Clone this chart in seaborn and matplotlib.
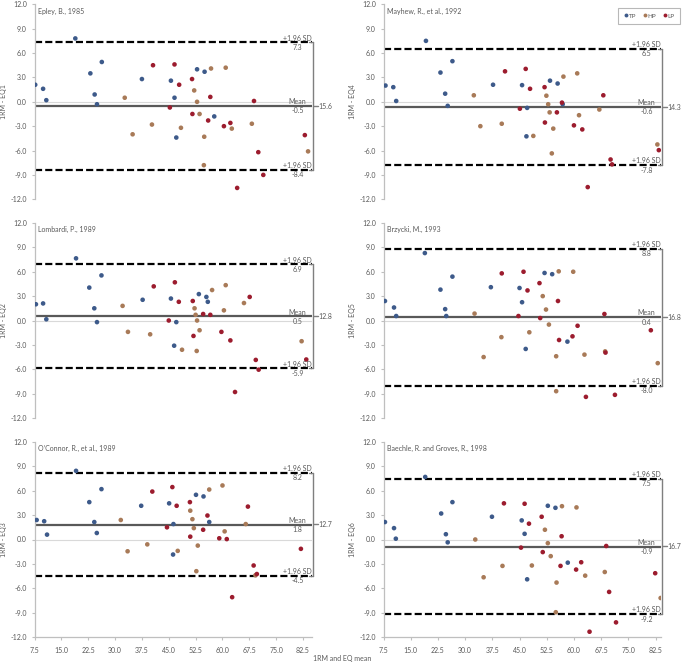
import numpy as np
import pandas as pd
import matplotlib
matplotlib.use("Agg")
import matplotlib.pyplot as plt
import matplotlib.transforms as mtransforms
from matplotlib.lines import Line2D
import seaborn as sns

sns.set_theme(style="white")
plt.rcParams['font.family'] = ['Lato', 'DejaVu Sans']

# ---------------- data ----------------
TITLES = ["Epley, B., 1985", "Mayhew, R., et al., 1992", "Lombardi, P., 1989",
          "Brzycki, M., 1993", "O\u2019Connor, R., et al., 1989", "Baechle, R. and Groves, R., 1998"]
YLABELS = ["1RM - EQ1", "1RM - EQ4", "1RM - EQ2", "1RM - EQ5", "1RM - EQ3", "1RM - EQ6"]
UPPER = [7.3, 6.5, 6.9, 8.8, 8.2, 7.5]
LOWER = [-8.4, -7.8, -5.9, -8.0, -4.5, -9.2]
MEAN = [-0.5, -0.6, 0.5, 0.4, 1.8, -0.9]
RANGE_LABELS = ["15.6", "14.3", "12.8", "16.8", "12.7", "16.7"]
GROUPS = ["TP", "HP", "LP"]
X_TICKS = [7.5, 15.0, 22.5, 30.0, 37.5, 45.0, 52.5, 60.0, 67.5, 75.0, 82.5]
Y_TICKS = [-12.0, -9.0, -6.0, -3.0, 0.0, 3.0, 6.0, 9.0, 12.0]

# Epley (EQ1)
EPLEY_TP_X = [7.7, 9.9, 10.8, 18.9, 23.1, 24.3, 24.95, 26.3, 37.5, 45.6, 46.6, 47.1, 52.9, 55.0, 57.7]
EPLEY_TP_Y = [2.1, 1.6, 0.2, 7.8, 3.5, 0.9, -0.3, 4.9, 2.8, 2.6, 0.5, -4.4, 4.0, 3.7, -1.8]
EPLEY_HP_X = [32.7, 34.9, 40.3, 48.4, 52.1, 52.9, 53.6, 54.9, 54.8, 56.8, 60.9, 62.6, 68.2, 83.9]
EPLEY_HP_Y = [0.5, -4.0, -2.8, -3.2, 1.4, 0.0, -1.5, -4.3, -7.8, 4.1, 4.2, -3.3, -2.7, -6.1]
EPLEY_LP_X = [40.6, 45.3, 46.6, 47.9, 51.5, 51.6, 56.0, 56.6, 60.4, 62.2, 64.1, 68.8, 70.0, 71.4, 83.0]
EPLEY_LP_Y = [4.5, -0.7, 4.6, 2.1, 2.8, -1.5, -2.3, 0.6, -3.0, -2.6, -10.6, 0.1, -6.2, -9.0, -4.1]

# Mayhew (EQ4)
MAYHEW_TP_X = [8.05, 10.2, 11.0, 19.2, 23.2, 24.5, 25.2, 26.5, 37.7, 45.7, 47.1, 46.9, 53.4, 55.5, 56.9]
MAYHEW_TP_Y = [2.0, 1.8, 0.1, 7.5, 3.6, 1.0, -0.5, 5.0, 2.1, 2.05, -0.75, -4.25, 2.6, 2.25, -0.3]
MAYHEW_HP_X = [32.4, 34.2, 40.1, 48.8, 52.4, 52.9, 53.3, 54.3, 53.9, 57.1, 60.9, 61.4, 67.0, 83.0]
MAYHEW_HP_Y = [0.8, -3.0, -2.7, -4.2, 0.75, -0.3, -1.3, -3.3, -6.35, 3.1, 3.5, -1.65, -0.95, -5.25]
MAYHEW_LP_X = [41.0, 45.1, 46.7, 47.9, 51.9, 52.0, 55.3, 56.7, 60.0, 62.3, 63.8, 68.1, 70.1, 70.5, 83.4]
MAYHEW_LP_Y = [3.75, -0.85, 4.05, 1.6, 1.8, -2.55, -1.3, -0.1, -2.9, -3.4, -10.5, 0.8, -7.1, -7.7, -5.95]

# Lombardi (EQ2)
LOMBARDI_TP_X = [7.9, 9.9, 10.8, 19.1, 22.8, 24.2, 24.95, 26.2, 37.7, 45.6, 47.1, 46.5, 53.4, 55.5, 55.9]
LOMBARDI_TP_Y = [2.0, 2.1, 0.15, 7.65, 4.05, 1.5, -0.2, 5.55, 2.55, 2.7, -0.2, -3.1, 3.25, 2.9, 2.3]
LOMBARDI_HP_X = [32.1, 33.6, 39.8, 48.7, 52.2, 52.5, 52.9, 53.6, 52.8, 57.1, 60.9, 60.4, 66.0, 82.1]
LOMBARDI_HP_Y = [1.8, -1.4, -1.7, -3.6, 1.5, 0.7, 0.0, -1.2, -3.75, 3.75, 4.35, 1.25, 2.15, -2.55]
LOMBARDI_LP_X = [40.8, 45.0, 46.7, 47.8, 51.7, 51.9, 54.6, 56.6, 59.7, 62.2, 63.5, 67.6, 69.3, 70.1, 83.4]
LOMBARDI_LP_Y = [4.2, 0.0, 4.7, 2.3, 2.4, -1.9, 0.8, 0.7, -1.4, -2.45, -8.8, 2.9, -4.85, -6.05, -4.8]

# Brzycki (EQ5)
BRZYCKI_TP_X = [7.9, 10.4, 11.0, 18.9, 23.2, 24.5, 24.8, 26.5, 37.1, 45.0, 45.7, 46.7, 51.9, 54.0, 58.2]
BRZYCKI_TP_Y = [2.4, 1.6, 0.55, 8.3, 3.8, 1.4, 0.55, 5.4, 4.1, 4.0, 2.25, -3.5, 5.85, 5.7, -2.6]
BRZYCKI_HP_X = [32.6, 35.1, 40.0, 47.7, 51.4, 52.3, 53.1, 55.1, 55.1, 55.8, 59.8, 62.9, 68.6, 83.1]
BRZYCKI_HP_Y = [0.85, -4.5, -2.05, -1.45, 3.0, 1.35, -0.5, -4.4, -8.7, 6.05, 6.0, -4.2, -3.8, -5.25]
BRZYCKI_LP_X = [40.1, 44.7, 46.1, 47.2, 50.5, 50.7, 55.6, 55.9, 59.6, 61.0, 63.3, 68.4, 68.7, 71.3, 81.2]
BRZYCKI_LP_Y = [5.8, 0.55, 6.0, 3.7, 4.6, 0.3, 2.4, -2.4, -1.95, -0.65, -9.4, 0.8, -3.95, -9.15, -1.2]

# O'Connor (EQ3)
OCONNOR_TP_X = [8.1, 10.2, 11.0, 19.1, 22.8, 24.2, 24.9, 26.2, 37.3, 45.1, 46.3, 46.2, 52.6, 54.7, 56.3]
OCONNOR_TP_Y = [2.4, 2.25, 0.6, 8.45, 4.6, 2.15, 0.8, 6.2, 4.15, 4.45, 1.9, -1.85, 5.5, 5.3, 2.15]
OCONNOR_HP_X = [31.6, 33.5, 39.0, 47.5, 51.0, 51.6, 52.0, 53.1, 52.7, 56.3, 60.0, 60.6, 66.5, 69.2]
OCONNOR_HP_Y = [2.4, -1.45, -0.6, -1.4, 3.55, 2.5, 1.4, -0.75, -3.9, 6.15, 6.65, 1.0, 1.9, -4.4]
OCONNOR_LP_X = [40.4, 44.5, 46.0, 47.2, 50.9, 51.0, 55.8, 54.6, 59.1, 61.2, 62.7, 67.1, 68.7, 69.6, 81.9]
OCONNOR_LP_Y = [5.9, 1.5, 6.45, 4.15, 4.6, 0.35, 2.95, 1.2, 0.15, 0.05, -7.1, 4.05, -3.2, -4.25, -1.15]

# Baechle (EQ6)
BAECHLE_TP_X = [7.9, 10.4, 10.9, 19.0, 23.4, 24.7, 25.2, 26.5, 37.4, 45.6, 46.4, 47.1, 52.8, 54.9, 58.3]
BAECHLE_TP_Y = [2.15, 1.4, 0.1, 7.7, 3.2, 0.65, -0.35, 4.6, 2.8, 2.35, 0.7, -4.9, 4.15, 3.9, -2.85]
BAECHLE_HP_X = [32.8, 35.1, 40.3, 48.4, 52.0, 52.8, 53.6, 55.2, 55.0, 56.7, 60.7, 63.1, 68.5, 83.9]
BAECHLE_HP_Y = [0.0, -4.65, -3.25, -3.2, 1.2, -0.45, -2.05, -5.3, -8.95, 4.1, 3.95, -4.45, -4.0, -7.2]
BAECHLE_LP_X = [40.7, 45.4, 46.4, 47.6, 51.1, 51.4, 56.3, 56.6, 60.6, 62.0, 64.3, 68.9, 69.7, 71.6, 82.4]
BAECHLE_LP_Y = [4.45, -1.0, 4.4, 1.95, 2.8, -1.55, -3.25, 0.4, -3.7, -2.8, -11.35, -0.8, -6.45, -10.2, -4.15]

PANELS = [
    (EPLEY_TP_X, EPLEY_TP_Y, EPLEY_HP_X, EPLEY_HP_Y, EPLEY_LP_X, EPLEY_LP_Y),
    (MAYHEW_TP_X, MAYHEW_TP_Y, MAYHEW_HP_X, MAYHEW_HP_Y, MAYHEW_LP_X, MAYHEW_LP_Y),
    (LOMBARDI_TP_X, LOMBARDI_TP_Y, LOMBARDI_HP_X, LOMBARDI_HP_Y, LOMBARDI_LP_X, LOMBARDI_LP_Y),
    (BRZYCKI_TP_X, BRZYCKI_TP_Y, BRZYCKI_HP_X, BRZYCKI_HP_Y, BRZYCKI_LP_X, BRZYCKI_LP_Y),
    (OCONNOR_TP_X, OCONNOR_TP_Y, OCONNOR_HP_X, OCONNOR_HP_Y, OCONNOR_LP_X, OCONNOR_LP_Y),
    (BAECHLE_TP_X, BAECHLE_TP_Y, BAECHLE_HP_X, BAECHLE_HP_Y, BAECHLE_LP_X, BAECHLE_LP_Y),
]

PALETTE = {"TP": "#3d5a8a", "HP": "#a87a58", "LP": "#9c1c2e"}
TEXT_C = "#595959"
AXIS_C = "#bfbfbf"
FS = 5.0

W, H = 685, 664
fig = plt.figure(figsize=(W / 100, H / 100), dpi=100)

col_left = [34.5, 383.5]
ax_w = 277.5
row_top = [4.3, 223.0, 442.0]
ax_h = 195.0
xmax = [85.0, 84.0]

for i, arrs in enumerate(PANELS):
    r, c = divmod(i, 2)
    rect = [col_left[c] / W, 1 - (row_top[r] + ax_h) / H, ax_w / W, ax_h / H]
    ax = fig.add_axes(rect)
    tpx, tpy, hpx, hpy, lpx, lpy = arrs
    df = pd.DataFrame({
        "x": list(tpx) + list(hpx) + list(lpx),
        "y": list(tpy) + list(hpy) + list(lpy),
        "g": ["TP"] * len(tpx) + ["HP"] * len(hpx) + ["LP"] * len(lpx),
    })
    ax.axhline(0, color="#d9d9d9", lw=0.8, zorder=1)
    sns.scatterplot(data=df, x="x", y="y", hue="g", hue_order=GROUPS, palette=PALETTE,
                    s=11, edgecolor="none", legend=False, ax=ax, zorder=3)
    ax.axhline(MEAN[i], color="#595959", lw=1.6, zorder=2)
    for v in (UPPER[i], LOWER[i]):
        ax.axhline(v, color="black", lw=1.6, dashes=(3.2, 1.4), zorder=2)

    ax.set_xlim(7.5, xmax[c])
    ax.set_ylim(-12, 12)
    ax.set_yticks(Y_TICKS)
    ax.set_yticklabels([f"{t:.1f}" for t in Y_TICKS])
    ax.set_xticks(X_TICKS)
    for s in ("top", "right"):
        ax.spines[s].set_visible(False)
    ax.spines["left"].set_color(AXIS_C)
    ax.spines["left"].set_linewidth(0.9)
    ax.tick_params(axis="y", which="both", left=True, length=2.5, width=0.8,
                   color=AXIS_C, labelsize=FS, labelcolor=TEXT_C, pad=3)
    if r == 2:
        ax.spines["bottom"].set_color(AXIS_C)
        ax.spines["bottom"].set_linewidth(0.9)
        ax.set_xticklabels([f"{t:.1f}" for t in X_TICKS])
        ax.tick_params(axis="x", which="both", bottom=True, length=2.5, width=0.8,
                       color=AXIS_C, labelsize=FS, labelcolor=TEXT_C, pad=5)
    else:
        ax.spines["bottom"].set_visible(False)
        ax.tick_params(axis="x", bottom=False, labelbottom=False)
    ax.set_xlabel("")
    ax.set_ylabel(YLABELS[i], fontsize=FS, color=TEXT_C)
    ax.yaxis.set_label_coords(-0.1, 0.5)

    ax.text(0.012, 0.965, TITLES[i], transform=ax.transAxes, fontsize=FS,
            color=TEXT_C, ha="left", va="center")

    tr = mtransforms.blended_transform_factory(ax.transAxes, ax.transData)
    tx = 0.948
    for v, top in ((UPPER[i], "+1.96 SD"), (LOWER[i], "+1.96 SD"), (MEAN[i], "Mean")):
        ax.annotate(top, (tx, v), xycoords=tr, xytext=(0, 0.6),
                    textcoords="offset points", ha="center", va="bottom", fontsize=FS, color=TEXT_C)
        ax.annotate(f"{v:.1f}", (tx, v), xycoords=tr, xytext=(0, -1.0),
                    textcoords="offset points", ha="center", va="top", fontsize=FS, color=TEXT_C)

    # bracket
    bx = 1.004
    mid = (UPPER[i] + LOWER[i]) / 2
    bc = "#7f7f7f"
    ax.plot([bx, bx], [LOWER[i], UPPER[i]], transform=tr, color=bc, lw=1.0, clip_on=False, zorder=4)
    for v in (UPPER[i], LOWER[i]):
        ax.plot([0.99, bx], [v, v], transform=tr, color=bc, lw=1.0, clip_on=False, zorder=4)
    ax.plot([bx, bx + 0.016], [mid, mid], transform=tr, color=bc, lw=1.0, clip_on=False, zorder=4)
    ax.text(bx + 0.02, mid, RANGE_LABELS[i], transform=tr, fontsize=FS, color=TEXT_C,
            ha="left", va="center")

handles = [Line2D([0], [0], marker="o", ls="none", markersize=2.8, markerfacecolor=PALETTE[g],
                  markeredgecolor="none", label=g) for g in GROUPS]
leg = fig.legend(handles=handles, loc="upper right", bbox_to_anchor=(683 / W, 1 - 5 / H),
                 ncol=3, fontsize=4.5, frameon=True, fancybox=False, handletextpad=0.1,
                 columnspacing=0.9, handlelength=0.8, borderpad=0.8, labelcolor=TEXT_C)
leg.get_frame().set_edgecolor("#a6a6a6")
leg.get_frame().set_linewidth(0.8)

fig.text(342 / W, 1 - 659 / H, "1RM and EQ mean", ha="center", va="center",
         fontsize=FS, color=TEXT_C)

fig.savefig("out.png", dpi=100)
